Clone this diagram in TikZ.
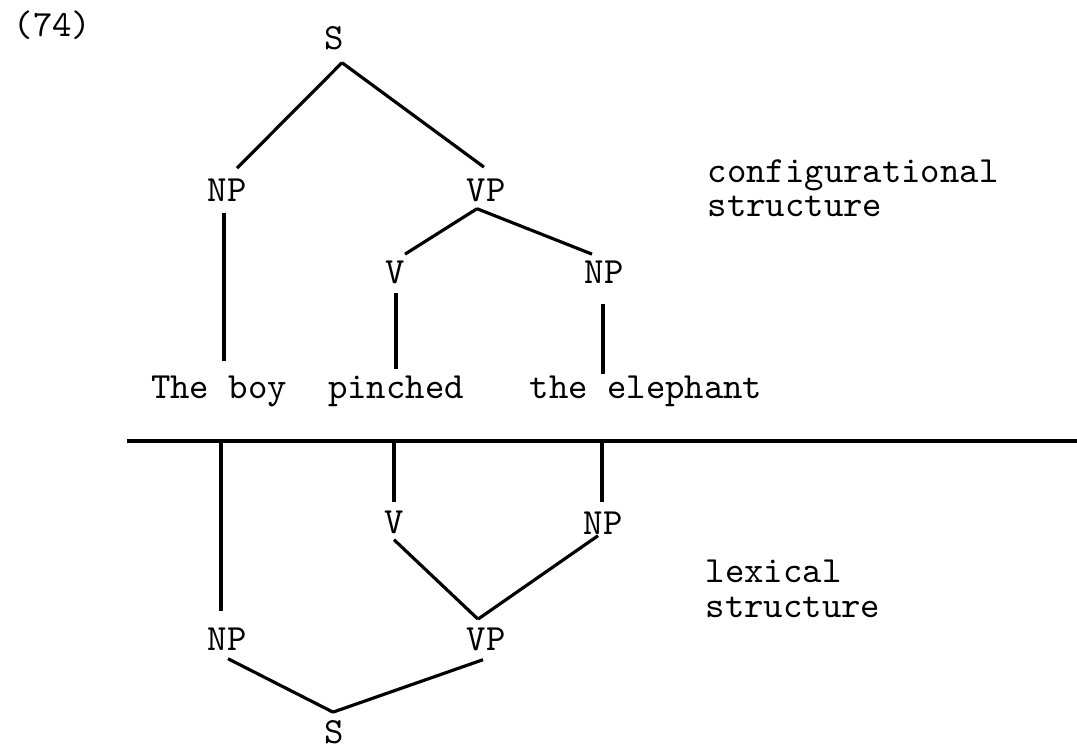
\documentclass[tikz,border=0pt]{standalone}
\begin{document}
\begin{tikzpicture}[x=0.01cm,y=-0.01cm,
  lbl/.style={font=\fontsize{10.5}{12}\selectfont\ttfamily, inner sep=0pt,
              text height=6.3pt, text depth=0pt, anchor=base},
  word/.style={lbl},
  note/.style={font=\fontsize{10.5}{9.7}\selectfont\ttfamily, inner sep=0pt,
               align=left, anchor=base west},
  edge/.style={line width=0.9pt}]
\useasboundingbox (0,0) rectangle (1077,746);

% example number
\node[note] (num) at (13,37) {(74)};

% upper tree: configurational structure
\node[lbl] (s1)  at (334,50)  {S};
\node[lbl] (np1) at (227,202) {NP};
\node[lbl] (vp1) at (486,202) {VP};
\node[lbl] (v1)  at (395,284) {V};
\node[lbl] (np2) at (604,284) {NP};
\node[word] (w1) at (219,398) {The boy};
\node[word] (w2) at (396,398) {pinched};
\node[word] (w3) at (646,398) {the elephant};

\draw[edge] ([shift={(8,12)}]s1.south) -- ([shift={(10,-11)}]np1.north);
\draw[edge] ([shift={(8,12)}]s1.south) -- ([shift={(-2,-12)}]vp1.north);
\draw[edge] ([shift={(-3,10)}]np1.south) -- ([shift={(5,-14)}]w1.north);
\draw[edge] ([shift={(-9,6)}]vp1.south) -- ([shift={(10,-7)}]v1.north);
\draw[edge] ([shift={(-9,6)}]vp1.south) -- ([shift={(-12,-7)}]np2.north);
\draw[edge] ([shift={(1,8)}]v1.south) -- ([shift={(0,-6)}]w2.north);
\draw[edge] ([shift={(-1,19)}]np2.south) -- ([shift={(-43,-1)}]w3.north);

% the base anchor of a two-line note sits on its last line
\node[note] (conf) at (707,217) {configurational\\structure};

% dividing rule
\coordinate (rl) at (127,441);
\coordinate (rr) at (1077,441);
\draw[edge] (rl) -- (rr);

% lower tree: lexical structure
\node[lbl] (v2)  at (394,533) {V};
\node[lbl] (np3) at (603,534) {NP};
\node[lbl] (np4) at (227,650) {NP};
\node[lbl] (vp2) at (486,650) {VP};
\node[lbl] (s2)  at (334,743) {S};

\draw[edge] ([shift={(-6,-187)}]np4.north) -- ([shift={(-6,-16)}]np4.north);
\draw[edge] ([shift={(0,-70)}]v2.north) -- ([shift={(0,-8)}]v2.north);
\draw[edge] ([shift={(-1,-71)}]np3.north) -- ([shift={(-1,-9)}]np3.north);
\draw[edge] ([shift={(0,6)}]v2.south) -- ([shift={(-8,-8)}]vp2.north);
\draw[edge] ([shift={(-5,1)}]np3.south) -- ([shift={(-8,-8)}]vp2.north);
\draw[edge] ([shift={(1,8)}]np4.south) -- ([shift={(-1,-8)}]s2.north);
\draw[edge] ([shift={(-3,9)}]vp2.south) -- ([shift={(-1,-8)}]s2.north);

\node[note] (lex) at (705,617) {lexical\\structure};
\end{tikzpicture}
\end{document}
